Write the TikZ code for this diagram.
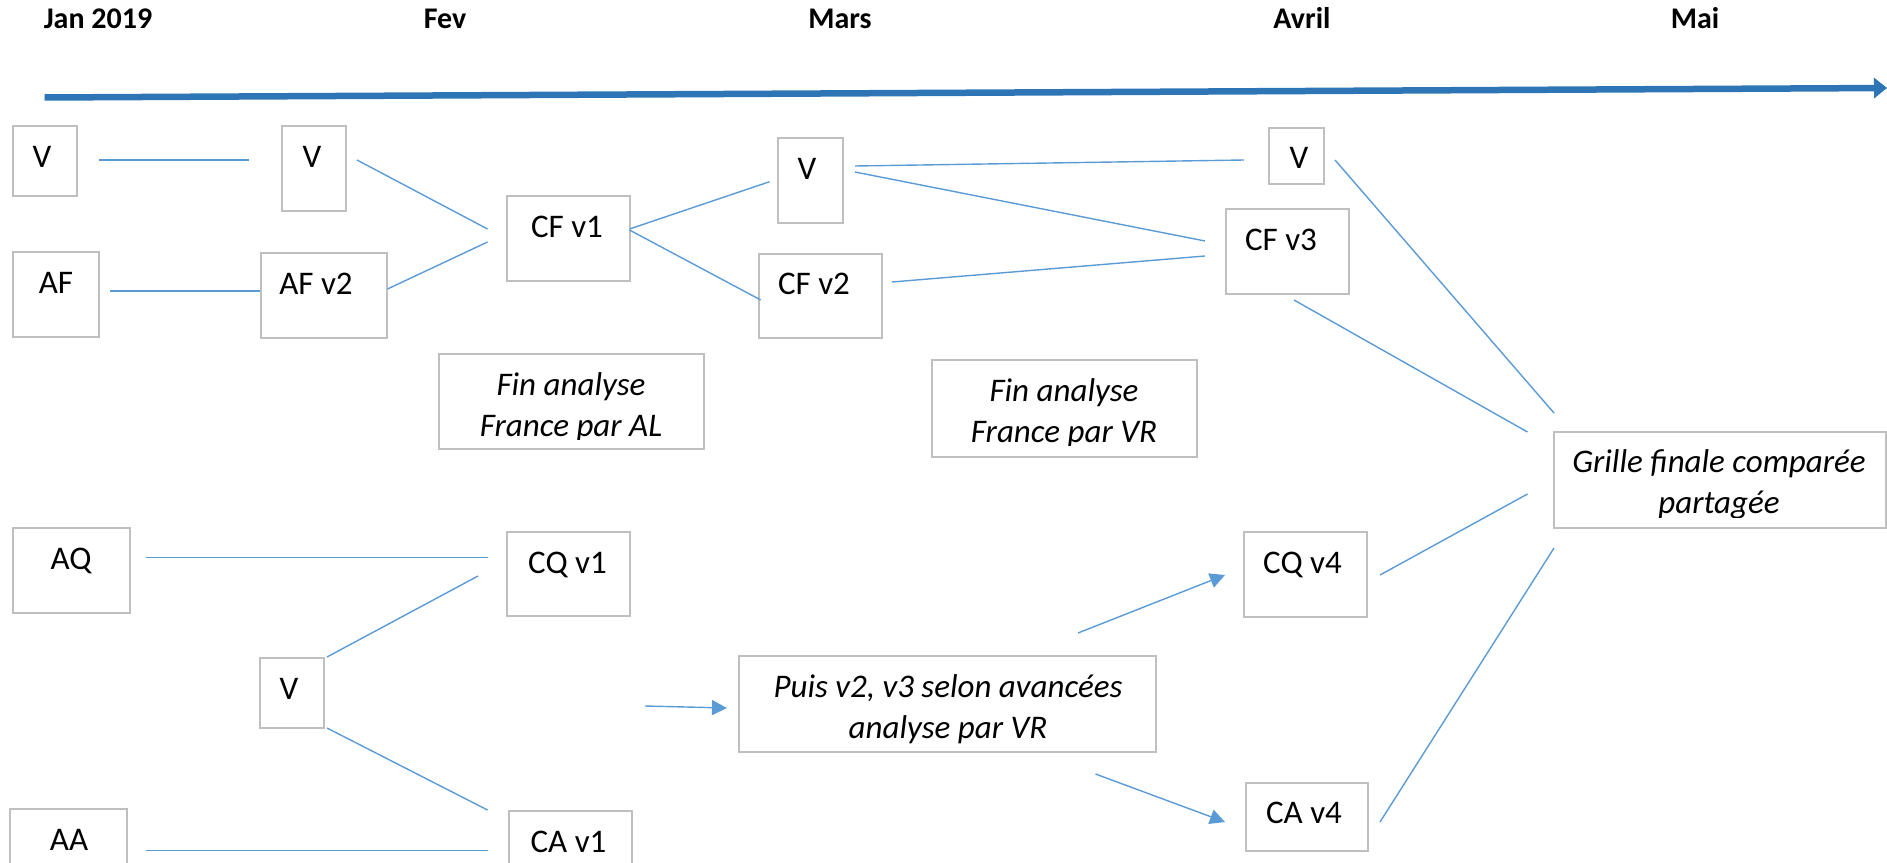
\documentclass[tikz,border=0pt]{standalone}
\usepackage{fontspec}
\setmainfont{Carlito}
\usetikzlibrary{arrows.meta,fit}
\definecolor{axisblue}{HTML}{2E75B6}
\definecolor{linkblue}{HTML}{5B9BD5}
\definecolor{boxgray}{HTML}{BFBFBF}
\begin{document}
\begin{tikzpicture}[x=1pt,y=-1pt,
  box/.style={draw=boxgray, line width=2pt, inner sep=0pt},
  lbl/.style={anchor=base, inner sep=0pt, font=\fontsize{33}{41}\selectfont},
  ilbl/.style={anchor=base, inner sep=0pt, align=center, font=\fontsize{33}{41}\selectfont\itshape},
  month/.style={anchor=base, inner sep=0pt, font=\fontsize{30}{36}\selectfont\bfseries},
  link/.style={draw=linkblue, line width=1.4pt},
  arr/.style={link, -{Triangle[length=15pt,width=15pt]}},
  axis/.style={draw=axisblue, line width=6.5pt, -{Triangle[length=13pt,width=20pt]}}
]
\useasboundingbox (0,0) rectangle (1887,862);
\clip (0,0) rectangle (1887,862);

% month labels
\node[month] (mjan) at (98,28) {Jan 2019};
\node[month] (mfev) at (445,28) {Fev};
\node[month] (mmar) at (840,28) {Mars};
\node[month] (mavr) at (1302,28) {Avril};
\node[month] (mmai) at (1695,28) {Mai};

% time axis
\coordinate (axs) at (44.6,97.5);
\coordinate (axe) at (1887,88);
\draw[axis] (axs) -- (axe);

% boxes
\node[box, fit={(12.5,126) (77,196)}] (bV1) {};
\node[box, fit={(282,126) (346,211)}] (bV2) {};
\node[box, fit={(12.5,252) (99,337)}] (bAF) {};
\node[box, fit={(261,253) (387,338)}] (bAFv2) {};
\node[box, fit={(507,196) (629.5,281)}] (bCFv1) {};
\node[box, fit={(439,354) (704,449)}] (bFinAL) {};
\node[box, fit={(778,138) (843,223)}] (bV3) {};
\node[box, fit={(759,254) (882,338)}] (bCFv2) {};
\node[box, fit={(1269,128) (1324,184)}] (bV4) {};
\node[box, fit={(1226,209) (1349,294)}] (bCFv3) {};
\node[box, fit={(932,360) (1197,457)}] (bFinVR) {};
\node[box, fit={(1554,432) (1886,528)}] (bGrille) {};
\node[box, fit={(12.5,528) (129.5,613)}] (bAQ) {};
\node[box, fit={(507,532) (629.5,616)}] (bCQv1) {};
\node[box, fit={(260,658) (324,728)}] (bV5) {};
\node[box, fit={(10,809) (127,900)}] (bAA) {};
\node[box, fit={(509,811) (632,900)}] (bCAv1) {};
\node[box, fit={(739,656) (1156,752)}] (bPuis) {};
\node[box, fit={(1244,532) (1367,617)}] (bCQv4) {};
\node[box, fit={(1246,783) (1368,851)}] (bCAv4) {};

% box texts
\node[lbl] (tV1) at (42,167) {V};
\node[lbl] (tV2) at (312,167) {V};
\node[lbl] (tAF) at (56,293) {AF};
\node[lbl] (tAFv2) at (316,294) {AF v2};
\node[lbl] (tCFv1) at (567,237) {CF v1};
\node[lbl] (tV3) at (807,179) {V};
\node[lbl] (tCFv2) at (814,294) {CF v2};
\node[lbl] (tV4) at (1299,168) {V};
\node[lbl] (tCFv3) at (1281,250) {CF v3};
\node[lbl] (tAQ) at (71,569) {AQ};
\node[lbl] (tCQv1) at (567.5,573) {CQ v1};
\node[lbl] (tV5) at (289,699) {V};
\node[lbl] (tAA) at (69,850) {AA};
\node[lbl] (tCAv1) at (568.5,852) {CA v1};
\node[lbl] (tCQv4) at (1302.5,573) {CQ v4};
\node[lbl] (tCAv4) at (1304,823) {CA v4};
\node[ilbl] (tPuis) at (948,738) {Puis v2, v3 selon avancées\\analyse par VR};
\begin{scope}
  \clip (440,355) rectangle (703,439);
  \node[ilbl] (tFinAL) at (571,436) {Fin analyse\\France par AL};
\end{scope}
\begin{scope}
  \clip (933,361) rectangle (1196,445);
  \node[ilbl] (tFinVR) at (1064,442) {Fin analyse\\France par VR};
\end{scope}
\begin{scope}
  \clip (1555,433) rectangle (1885,517);
  \node[ilbl] (tGrille) at (1719,513) {Grille finale comparée\\partagée};
\end{scope}

% connector end points
\coordinate (c1a) at (99,160);      \coordinate (c1b) at (249,160);
\coordinate (c2a) at (357,160);     \coordinate (c2b) at (487.5,229);
\coordinate (c3a) at (110,291);     \coordinate (c3b) at (260,291);
\coordinate (c4a) at (387.5,289);   \coordinate (c4b) at (487.5,242);
\coordinate (c5a) at (629.5,229);   \coordinate (c5b) at (769.6,181.7);
\coordinate (c6a) at (629.5,230);   \coordinate (c6b) at (760.7,300);
\coordinate (c7a) at (855,166);     \coordinate (c7b) at (1244,160);
\coordinate (c8a) at (855,172);     \coordinate (c8b) at (1205,241);
\coordinate (c9a) at (892,282);     \coordinate (c9b) at (1205,256);
\coordinate (c10a) at (1335,160);   \coordinate (c10b) at (1554,413);
\coordinate (c11a) at (1294,300);   \coordinate (c11b) at (1527.5,432);
\coordinate (c12a) at (1380,575);   \coordinate (c12b) at (1527.5,494);
\coordinate (c13a) at (1380,822);   \coordinate (c13b) at (1554,548);
\coordinate (c14a) at (145.5,557.7);\coordinate (c14b) at (487.5,557.7);
\coordinate (c15a) at (327,657);    \coordinate (c15b) at (478,576);
\coordinate (c16a) at (327,728);    \coordinate (c16b) at (487.5,810);
\coordinate (c17a) at (146,850.7);  \coordinate (c17b) at (487.5,850.7);
\coordinate (c18a) at (645,706);    \coordinate (c18b) at (727,708);
\coordinate (c19a) at (1078,633);   \coordinate (c19b) at (1225,575);
\coordinate (c20a) at (1095.5,774); \coordinate (c20b) at (1225,822);

% connectors
\draw[link] (c1a) -- (c1b);
\draw[link] (c2a) -- (c2b);
\draw[link] (c3a) -- (c3b);
\draw[link] (c4a) -- (c4b);
\draw[link] (c5a) -- (c5b);
\draw[link] (c6a) -- (c6b);
\draw[link] (c7a) -- (c7b);
\draw[link] (c8a) -- (c8b);
\draw[link] (c9a) -- (c9b);
\draw[link] (c10a) -- (c10b);
\draw[link] (c11a) -- (c11b);
\draw[link] (c12a) -- (c12b);
\draw[link] (c13a) -- (c13b);
\draw[link] (c14a) -- (c14b);
\draw[link] (c15a) -- (c15b);
\draw[link] (c16a) -- (c16b);
\draw[link] (c17a) -- (c17b);
\draw[arr] (c18a) -- (c18b);
\draw[arr] (c19a) -- (c19b);
\draw[arr] (c20a) -- (c20b);
\end{tikzpicture}
\end{document}
